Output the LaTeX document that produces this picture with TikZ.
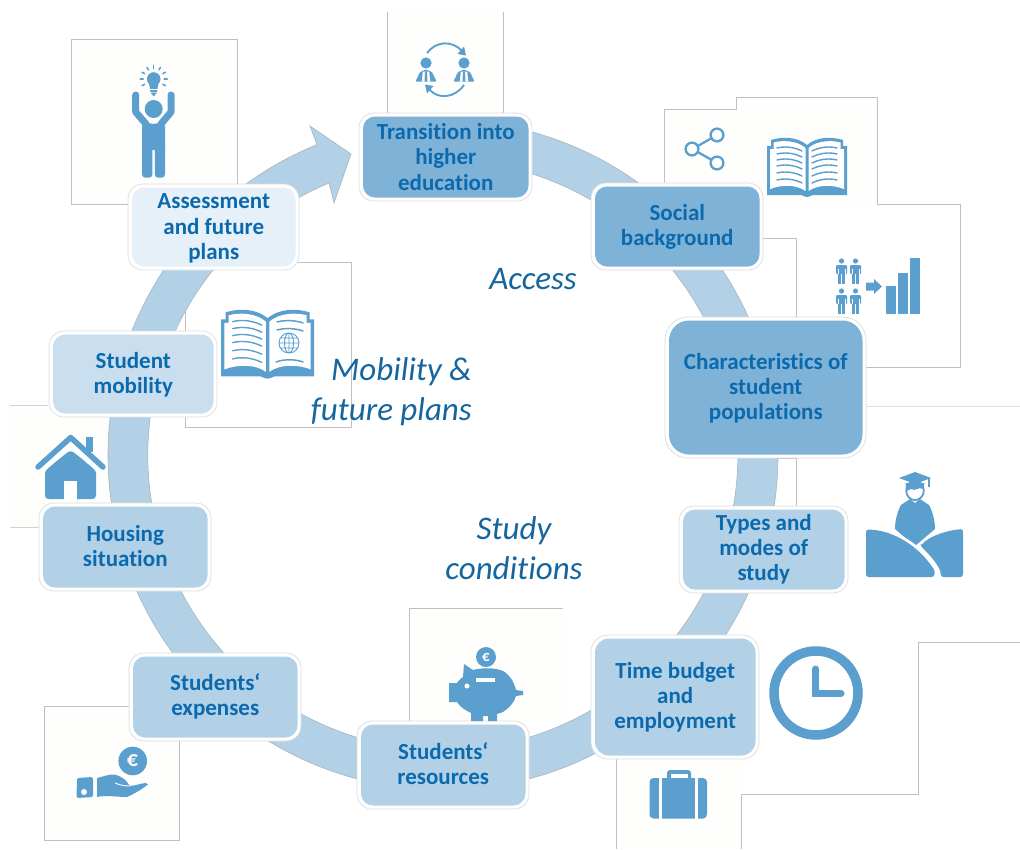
\documentclass[tikz,border=0pt]{standalone}
\usepackage{fontspec}
\setmainfont{Carlito}[Ligatures=NoCommon]
\definecolor{ringblue}{HTML}{B2D1E7}
\definecolor{iconblue}{HTML}{5B9FCF}
\definecolor{txtblue}{HTML}{0B69AE}
\definecolor{themeblue}{HTML}{15659F}
\definecolor{darkbox}{HTML}{7FB2D7}
\definecolor{midbox}{HTML}{B2D1E7}
\definecolor{lightbox}{HTML}{C9DFEF}
\definecolor{paleBox}{HTML}{E5F0F8}
\definecolor{patch}{HTML}{FEFEFD}
\definecolor{rule}{HTML}{C0C0C0}
\definecolor{ringedge}{HTML}{A9B4BC}
\tikzset{
  stage/.style={inner sep=0pt,align=center,text=txtblue,
    font=\fontsize{23}{25.2}\selectfont\bfseries},
  outerbox/.style={draw=rule!55,line width=.7pt,fill=white},
  patchline/.style={draw=rule,line width=.8pt},
  theme/.style={text=themeblue,font=\fontsize{33}{40}\selectfont\itshape,inner sep=0pt},
  euro/.style={text=white,font=\fontsize{#1}{#1}\selectfont\bfseries,inner sep=0pt},
}
% [text offset], name, x1, y1, x2, y2, fill, radius, text
\newcommand\stagebox[9][0]{%
  \pgfmathsetmacro\bxa{#3+4}\pgfmathsetmacro\bxb{#5-3.5}%
  \pgfmathsetmacro\bya{#4+3.5}\pgfmathsetmacro\byb{#6-3.5}%
  \pgfmathsetmacro\bcx{(\bxa+\bxb)/2}\pgfmathsetmacro\bcy{(\bya+\byb)/2+#1}%
  \pgfmathsetmacro\brr{#8+3}%
  \path[outerbox,rounded corners=\brr pt] (#3,#4) rectangle (#5,#6);
  \fill[#7,rounded corners=#8pt] (\bxa,\bya) rectangle (\bxb,\byb);
  \node[stage] (#2) at (\bcx,\bcy) {#9};
}
% open book: left x, top y, scale
\newcommand\openbook[3]{%
  \begin{scope}[shift={(#1,#2)},xscale=#3,yscale=#3]
    \fill[iconblue] (0,8) -- (4,8) -- (4,2) .. controls (15,-1.5) and (30,-1.5) .. (40,7)
      .. controls (50,-1.5) and (65,-1.5) .. (76,2) -- (76,8) -- (80,8) -- (80,57) -- (46,57)
      .. controls (43,58) and (42,59) .. (40,59) .. controls (38,59) and (37,58) .. (34,57) -- (0,57) -- cycle;
    \fill[white] (6.5,4.5) .. controls (16,2) and (30,2.5) .. (38.5,10) -- (38.5,53)
      .. controls (30,47) and (16,46) .. (3,51) -- (3,11) -- (6.5,11) -- cycle;
    \fill[white] (73.5,4.5) .. controls (64,2) and (50,2.5) .. (41.5,10) -- (41.5,53)
      .. controls (50,47) and (64,46) .. (77,51) -- (77,11) -- (73.5,11) -- cycle;
    \fill[iconblue] (38.8,8) rectangle (41.2,36);
    \draw[iconblue,line width=.6pt] (40,36) -- (40,56);
    \foreach \ly in {10,16,22,28,35,42}{
      \draw[iconblue,line width=1.4pt,line cap=round] (10,\ly) .. controls (18,\ly-2) and (27,\ly-1) .. (35,\ly+3);
    }
  \end{scope}}
\newcommand\smallperson[2]{%
  \fill[iconblue] (#1,#2) circle (2.6);
  \fill[iconblue,rounded corners=1pt] (#1-5.5,#2+4.2) rectangle (#1+5.5,#2+13);
  \fill[iconblue] (#1-3.6,#2+8) rectangle (#1-.4,#2+23);
  \fill[iconblue] (#1+.4,#2+8) rectangle (#1+3.6,#2+23);
  \draw[white,line width=.5pt] (#1-3.7,#2+8) -- (#1-3.7,#2+13) (#1+3.7,#2+8) -- (#1+3.7,#2+13);
}
\newcommand\suitperson[2]{%
  \fill[iconblue] (#1,#2) circle (5.6);
  \fill[iconblue,rounded corners=1pt] (#1-10.5,#2+18.5) -- (#1-6,#2+9) -- (#1,#2+6.5) -- (#1+6,#2+9) -- (#1+10.5,#2+18.5) -- cycle;
  \fill[white] (#1-3.2,#2+8.5) -- (#1+3.2,#2+8.5) -- (#1+4.2,#2+18.5) -- (#1-4.2,#2+18.5) -- cycle;
  \fill[iconblue] (#1-1,#2+8.5) -- (#1+1,#2+8.5) -- (#1+1.5,#2+18.5) -- (#1-1.5,#2+18.5) -- cycle;
}
\begin{document}
\begin{tikzpicture}[x=1pt,y=-1pt]
\useasboundingbox (0,0) rectangle (1020,849);
\fill[white] (0,0) rectangle (1020,849);

% ---- pale panels behind the icons
\fill[patch] (71,39) rectangle (237,204);
\draw[patchline] (128,204) -- (71,204) -- (71,39) -- (237,39) -- (237,184);
\fill[patch] (387,12) rectangle (503,114);
\draw[patchline] (387,114) -- (387,12) (503,12) -- (503,114);
\draw[patchline] (298,262) -- (351,262) -- (351,427) -- (185,427) -- (185,414);
\draw[patchline] (176,331) -- (185,331) -- (185,300);
\fill[patch] (10,405) rectangle (112,527);
\draw[rule!70,line width=.7pt] (10,405) -- (48,405) (10,527) -- (40,527);
\fill[patch] (44,706) rectangle (179,840);
\draw[patchline] (130,706) -- (44,706) -- (44,840) -- (179,840) -- (179,740) -- (268,740);
\fill[patch] (409,608) rectangle (563,722);
\draw[patchline] (409,722) -- (409,608) -- (563,608);
\fill[patch] (616,759) rectangle (741,849);
\draw[patchline] (616,759) -- (616,849) (741,849) -- (741,794) -- (918,794) -- (918,642) -- (1020,642);
\fill[patch] (664,109) rectangle (736,184);
\fill[patch] (736,97) rectangle (877,204);
\draw[patchline] (664,183) -- (664,109) -- (736,109) -- (736,97) -- (877,97) -- (877,204) -- (960,204) -- (960,367) -- (865,367) -- (865,406);
\draw[rule!50,line width=.8pt] (865,406) -- (1020,406);
\draw[patchline] (760,238) -- (796,238) -- (796,317) -- (750,317);
\draw[patchline] (775,458) -- (796,458) -- (796,506) -- (775,506);

% ---- the ring with its arrow head
\draw[draw=ringedge,line width=.6pt,fill=ringblue]
  (443,455) ++(-88:335) arc[start angle=-88,end angle=247.9,radius=335]
  -- (310,126) -- (351,154) -- (334,203) -- (329,183)
  arc[start angle=247.3,end angle=-88,radius=295] -- cycle;

% ---- stages
\stagebox{transition}{359}{113}{532}{201}{darkbox}{12}{Transition into\\higher\\education}
\stagebox{social}{591}{183}{763}{270}{darkbox}{12}{Social\\background}
\stagebox[.5]{characteristics}{665}{317}{866}{458}{darkbox}{20}{Characteristics of\\student\\populations}
\stagebox{types}{679}{506}{848}{593}{midbox}{12}{Types and\\modes of\\study}
\stagebox{time}{591}{635}{759}{759}{midbox}{14}{Time budget\\and\\employment}
\stagebox[-1.5]{resources}{357}{721}{529}{809}{midbox}{12}{Students‘\\resources}
\stagebox[-1]{expenses}{129}{653}{301}{741}{midbox}{12}{Students‘\\expenses}
\stagebox[-1]{housing}{39}{503}{211}{591}{midbox}{12}{Housing\\situation}
\stagebox[1]{mobility}{49}{331}{217}{417}{lightbox}{12}{Student\\mobility}
\stagebox[1.5]{assessment}{128}{184}{299}{270}{paleBox}{12}{Assessment\\and future\\plans}

% ---- theme labels
\node[theme] (access) at (533,279) {Access};
\node[theme,align=right,anchor=east] (mobtheme) at (472,392) {Mobility \&\\future plans};
\node[theme,align=center] (studytheme) at (514,548) {Study\\conditions};

% ---- icon: person with light bulb
\fill[iconblue] (153.7,109) circle (9);
\draw[iconblue,line width=7pt,line cap=round,line join=round] (135.7,95) -- (135.7,112) -- (146,124);
\draw[iconblue,line width=7pt,line cap=round,line join=round] (171,95) -- (171,112) -- (161,124);
\fill[iconblue] (142,126) -- (147,122) .. controls (150,124.5) and (157,124.5) .. (160,122) -- (165,126) -- (165,150) -- (142,150) -- cycle;
\fill[iconblue,rounded corners=3pt] (142,145) rectangle (152.4,177.5);
\fill[iconblue,rounded corners=3pt] (154.8,145) rectangle (165,177.5);
\fill[iconblue] (153.7,79) circle (6.8);
\fill[iconblue] (149,83) -- (158.4,83) -- (157,92) -- (150.4,92) -- cycle;
\fill[white] (149.5,88.5) rectangle (158,89.3);
\fill[iconblue] (150.5,92.5) -- (157,92.5) -- (153.7,96.5) -- cycle;
\foreach \a in {-180,-150,-120,-90,-60,-30,0,30,150}{
  \draw[iconblue,line width=1.5pt,line cap=round] (153.7,79) ++(\a:10.5) -- ++(\a:3);
}

% ---- icon: transition
\draw[iconblue,line width=1.9pt] (427,53) .. controls (436,41) and (452,40) .. (462,51);
\fill[iconblue] (466,55.5) -- (457.5,54) -- (464,46.5) -- cycle;
\draw[iconblue,line width=1.9pt] (464,85) .. controls (455,98) and (438,100) .. (429,89);
\fill[iconblue] (425,84.5) -- (433.5,86) -- (427,93.5) -- cycle;
\suitperson{426}{63}
\suitperson{464}{63}

% ---- icon: share
\draw[iconblue,line width=2.3pt] (692,149) circle (6.4) (717,135) circle (6.4) (717,163) circle (6.4);
\draw[iconblue,line width=2.3pt] (697.8,146) -- (711.4,138.2) (697.8,152) -- (711.4,159.8);

% ---- icon: book, with lines on both pages
\openbook{767}{138}{1}
\begin{scope}[shift={(767,138)}]
  \foreach \ly in {10,16,22,28,35,42}{
    \draw[iconblue,line width=1.4pt,line cap=round] (70,\ly) .. controls (62,\ly-2) and (53,\ly-1) .. (45,\ly+3);
  }
\end{scope}

% ---- icon: people to bars
\smallperson{841.5}{261}
\smallperson{855.5}{261}
\smallperson{841.5}{291}
\smallperson{855.5}{291}
\fill[iconblue] (866,282.5) -- (874,282.5) -- (874,279) -- (882,286.5) -- (874,294) -- (874,290.5) -- (866,290.5) -- cycle;
\fill[iconblue] (886,286) rectangle (896,314);
\fill[iconblue] (898,273) rectangle (908,314);
\fill[iconblue] (909.5,258) rectangle (919.5,314);

% ---- icon: graduate
\fill[iconblue] (910,499) -- (915,503) -- (920,499) -- (929,505) .. controls (932,510) and (935,520) .. (935,529)
  -- (915,546) -- (895,529) .. controls (895,520) and (898,510) .. (901,505) -- cycle;
\draw[iconblue,fill=white,line width=1.8pt] (915,490.5) ellipse (8.8 and 9.6);
\fill[iconblue] (905.5,483) -- (924.5,483) -- (923,489) .. controls (918,486) and (916,492) .. (911,489) -- (906.5,491) -- cycle;
\fill[iconblue,line join=round] (899,478) -- (915,472) -- (931,478) -- (915,484) -- cycle;
\draw[iconblue,line width=1.6pt] (929,478) -- (929,487);
\draw[white,line width=7pt] (866,531) .. controls (895,530) and (925,550) .. (938,578);
\fill[iconblue,rounded corners=2.5pt] (866,577) -- (866,529.5) .. controls (895,530) and (920,548) .. (935,571) -- (934,577) -- cycle;
\fill[iconblue,rounded corners=2.5pt] (920.5,546) .. controls (930,535) and (950,530) .. (963,529) -- (963,577) -- (941,577) -- (940.5,571) .. controls (936,562) and (928,553) .. cycle;

% ---- icon: clock
\draw[iconblue,line width=9.5pt] (816,693) circle (42);
\draw[iconblue,line width=7pt,line cap=round,line join=miter] (815.7,669) -- (815.7,693) -- (841,693);

% ---- icon: briefcase
\fill[iconblue,rounded corners=3pt] (667,770) rectangle (691,785);
\fill[white] (670.5,774) rectangle (687.5,779);
\fill[iconblue,rounded corners=4pt] (649.5,778) rectangle (707,818.5);
\fill[white] (659,776) rectangle (662,820);
\fill[white] (695,776) rectangle (697.5,820);

% ---- icon: piggy bank
\fill[iconblue] (486,657) circle (10);
\node[euro=15] (coinb) at (486,657) {€};
\fill[iconblue] (464,664) -- (473,670) .. controls (482,667.5) and (495,667.5) .. (503,671)
  .. controls (510,675) and (514,682) .. (516,690) -- (523,691) -- (523,695) -- (516,696)
  .. controls (514,703) and (509,708) .. (503,712) -- (497,714) -- (497,721) -- (488,721) -- (488,716) -- (483,716) -- (483,721) -- (471,721) -- (471,713)
  .. controls (465,710) and (460,707) .. (457,702) -- (449,702) -- (449,683) -- (457,683)
  .. controls (459,680) and (461,678) .. (463,677) -- cycle;
\fill[white] (476,678) rectangle (495,682);
\fill[white] (467,686) circle (2.5);

% ---- icon: hand with coin
\fill[iconblue] (132.7,761) circle (14.3);
\node[euro=22] (coina) at (132.5,761) {€};
\fill[iconblue,rounded corners=1.5pt] (77,778) -- (93,777) -- (93,797) -- (76.5,798) -- cycle;
\fill[white] (84,792) circle (3);
\fill[iconblue] (97,778) .. controls (105,776) and (110,774) .. (114,774.5) .. controls (118,775) and (124,778) .. (127,782)
  -- (130,786) .. controls (136,785.5) and (142,783) .. (146,783) -- (148,784.5)
  .. controls (142,789) and (136,793) .. (127,797) .. controls (118,797) and (105,795) .. (97,797) -- cycle;
\draw[white,line width=.9pt] (115,783) .. controls (120,785) and (124,786) .. (130,786);

% ---- icon: house
\fill[iconblue] (86,437) rectangle (93,452);
\fill[iconblue,rounded corners=3.5pt] (45,499) -- (45,470) -- (70.7,450) -- (96,470) -- (96,499) -- cycle;
\draw[white,line width=2pt] (40,474) -- (70.7,447) -- (101,474);
\draw[iconblue,line width=5.5pt,line cap=round,line join=round] (38,467) -- (70.7,437.5) -- (103,467);
\fill[white] (64,481) rectangle (77,500);

% ---- icon: book with globe
\openbook{221}{310}{1.165}
\draw[iconblue,line width=1.5pt,line cap=round] (277,322) .. controls (284,320) and (295,320) .. (303,323);
\draw[iconblue,line width=1.5pt,line cap=round] (277,330) .. controls (284,328) and (295,328) .. (303,331);
\draw[iconblue,line width=1.5pt,line cap=round] (276,362) .. controls (284,359) and (295,359) .. (303,362);
\draw[iconblue,line width=.9pt] (289,343) circle (10) (289,343) ellipse (4.5 and 10) (279,343) -- (299,343) (280.5,338) -- (297.5,338) (280.5,348) -- (297.5,348) (289,333) -- (289,353);
\end{tikzpicture}
\end{document}
